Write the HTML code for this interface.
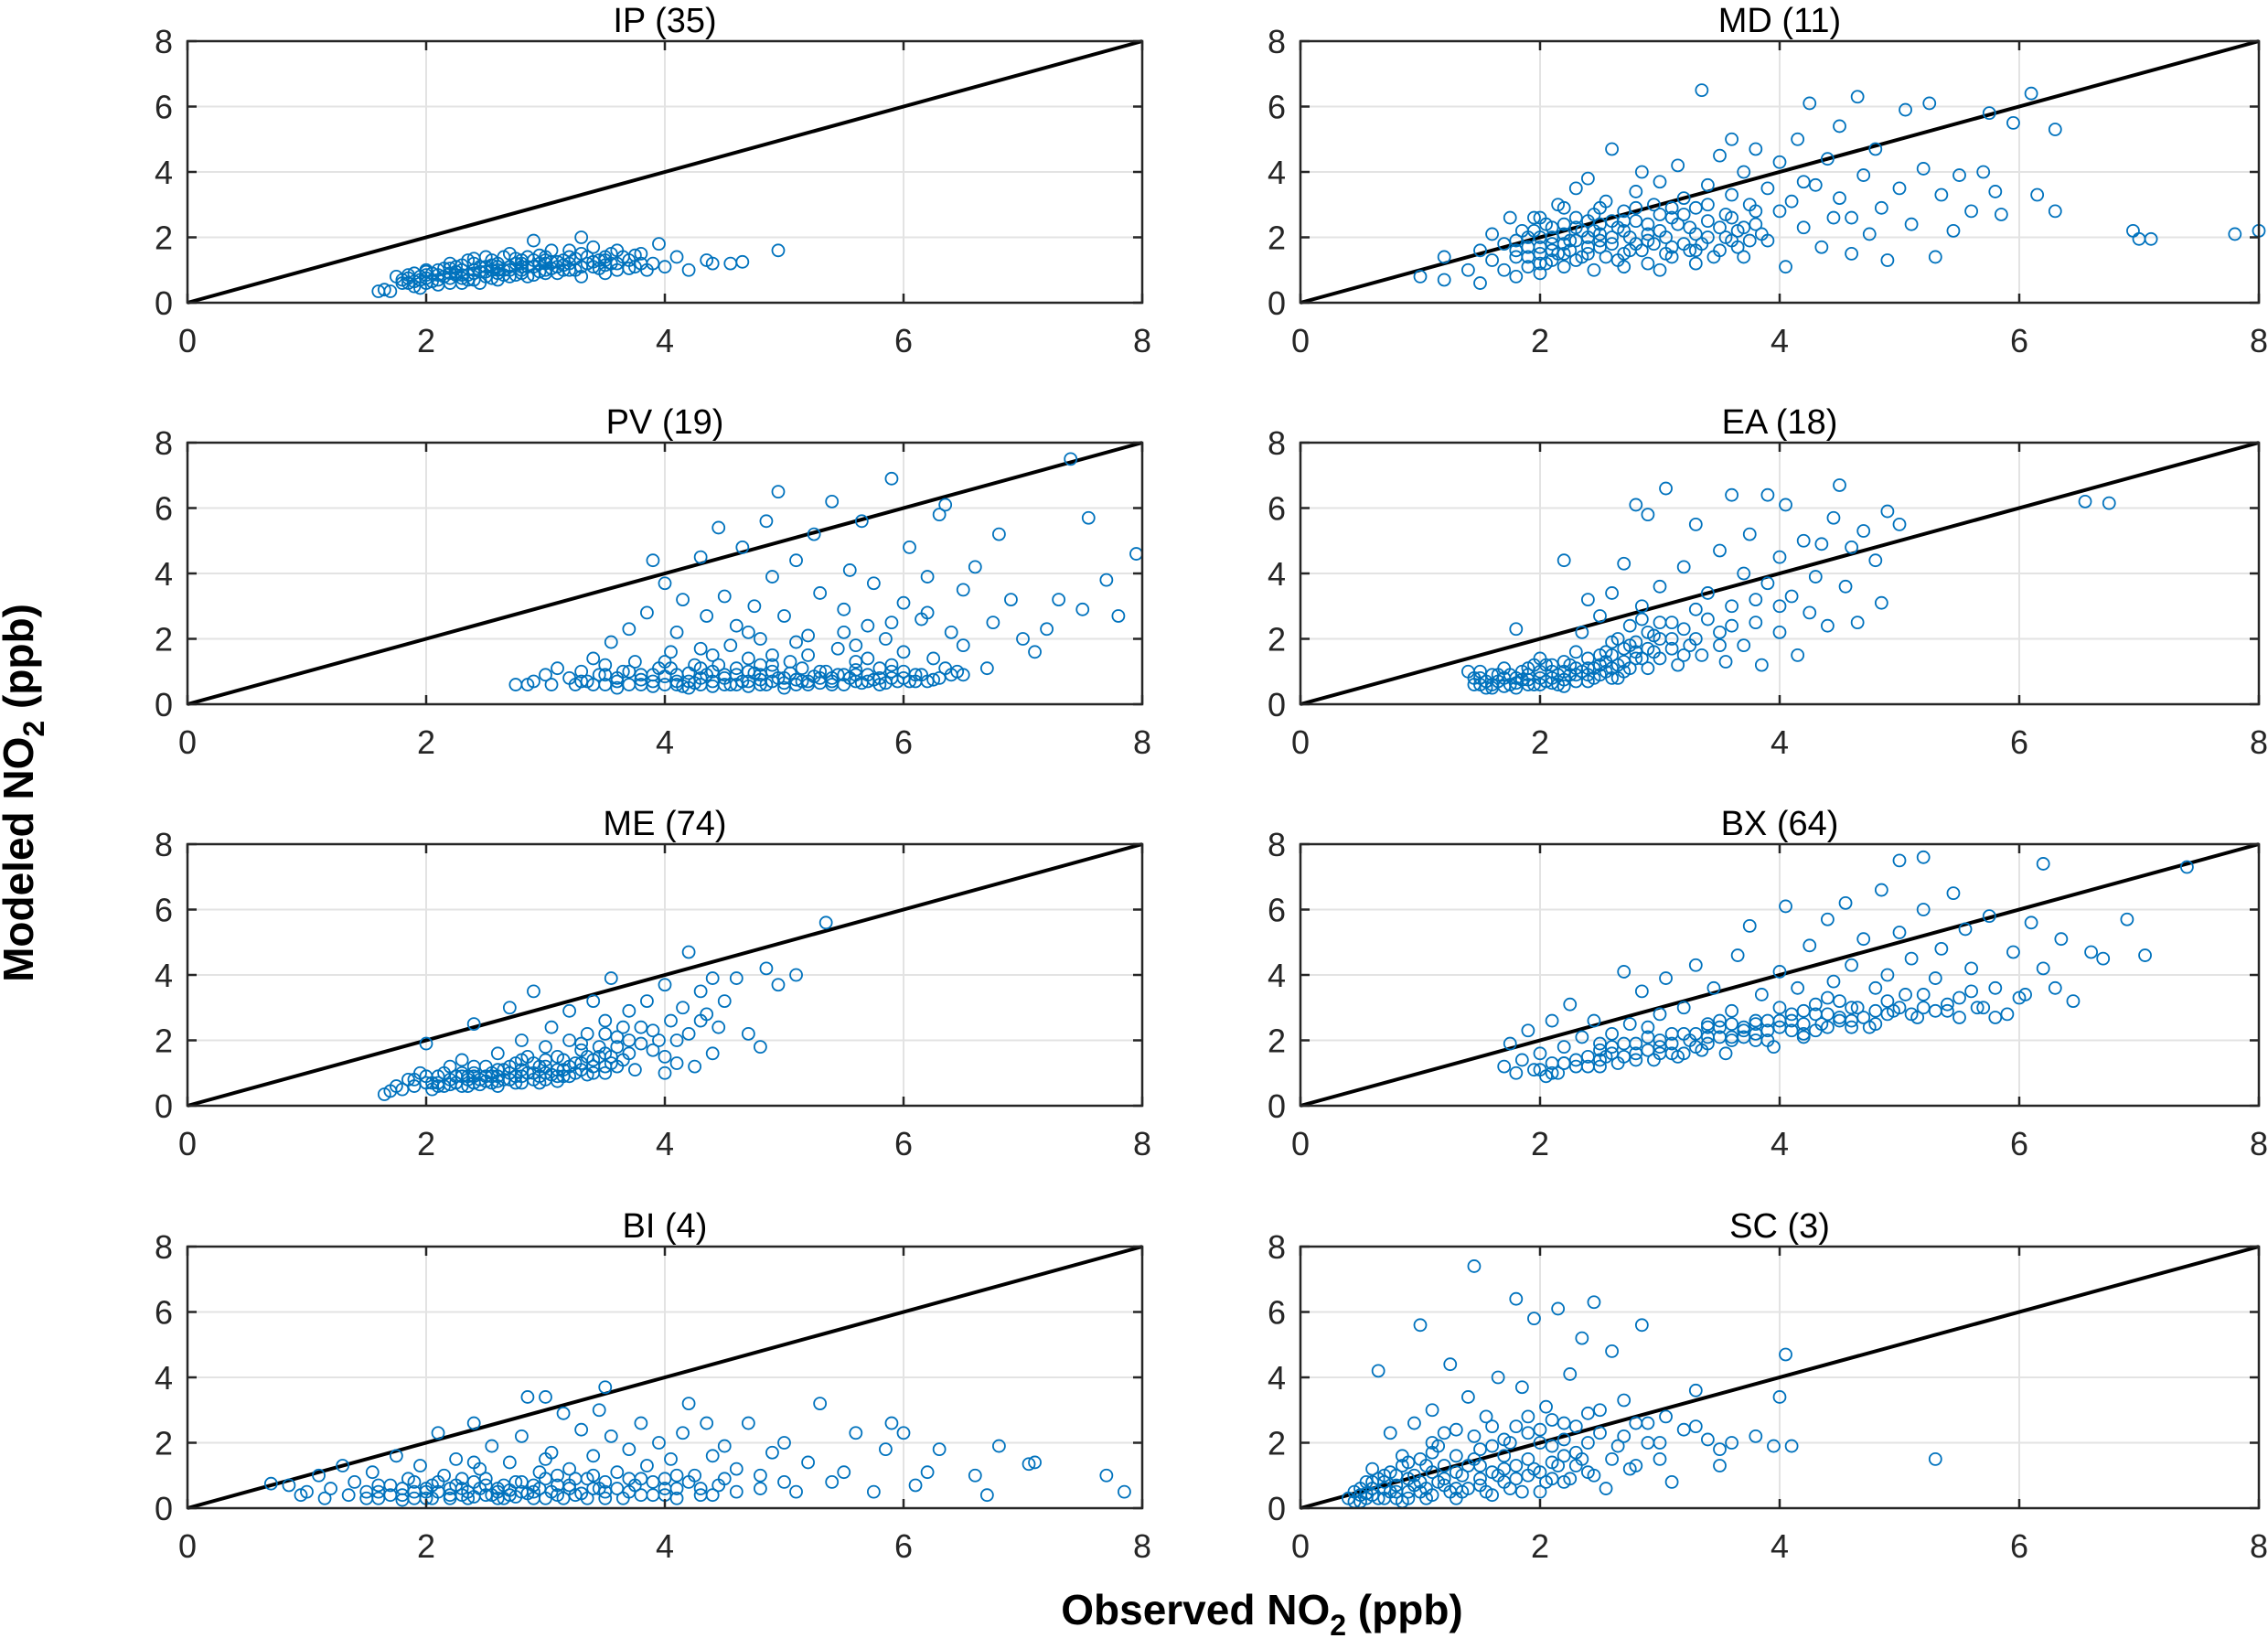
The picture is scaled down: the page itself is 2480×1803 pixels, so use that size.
<!DOCTYPE html>
<html><head><meta charset="utf-8"><style>
html,body{margin:0;padding:0;background:#fff;}
svg{display:block;font-family:"Liberation Sans",Arial,sans-serif;}
</style></head><body>
<svg id="fig" width="2480" height="1803" viewBox="0 0 2480 1803" xmlns="http://www.w3.org/2000/svg">
<text transform="translate(36,867) rotate(-90)" text-anchor="middle" font-size="46" font-weight="bold" fill="#000">Modeled NO<tspan font-size="32" dy="12">2</tspan><tspan dy="-12"> (ppb)</tspan></text>
<text x="1380" y="1776" text-anchor="middle" font-size="46" font-weight="bold" fill="#000">Observed NO<tspan font-size="32" dy="12">2</tspan><tspan dy="-12"> (ppb)</tspan></text>
</svg>
<script>
const titles=["IP (35)","MD (11)","PV (19)","EA (18)","ME (74)","BX (64)","BI (4)","SC (3)"];
const tickValues=[0,2,4,6,8];
const ipPoints=[[1.6,.35],[1.65,.4],[1.7,.35],[1.75,.8],[1.8,.6],[1.85,.75],[1.9,.5],[1.95,.7],[2.0,.6],[2.0,.85],[2.05,.9],[2.1,.7],[2.1,1.0],[2.15,.8],[2.2,.6],[2.2,.9],[2.25,1.1],[2.3,.75],[2.3,1.0],[2.35,.85],[2.4,1.2],[2.4,.7],[2.45,.95],[2.5,1.1],[2.5,.8],[2.55,1.3],[2.6,.9],[2.6,1.1],[2.65,1.4],[2.7,.8],[2.7,1.0],[2.75,1.2],[2.8,.9],[2.8,1.3],[2.85,1.1],[2.9,1.9],[2.9,.85],[2.95,1.2],[3.0,1.0],[3.0,1.4],[3.05,1.6],[3.1,1.1],[3.1,.9],[3.15,1.3],[3.2,1.2],[3.25,1.0],[3.3,1.5],[3.3,2.0],[3.35,1.2],[3.4,1.1],[3.45,1.3],[3.5,1.4],[3.5,.9],[3.55,1.2],[3.6,1.6],[3.6,1.0],[3.7,1.3],[3.75,1.1],[3.8,1.5],[3.9,1.2],[3.95,1.8],[4.0,1.1],[4.1,1.4],[4.2,1.0],[4.35,1.3],[4.4,1.2],[4.55,1.2],[4.65,1.25],[4.95,1.6],[1.9,.9],[2.0,1.0],[2.2,1.2],[2.3,.6],[2.5,1.4],[2.6,.7],[2.7,1.5],[2.8,1.1],[3.0,1.2],[3.2,1.6],[3.4,1.7],[3.3,.8],[2.4,1.0],[2.1,.55],[2.0,.75],[1.85,.6],[2.35,1.3],[2.65,1.0],[2.95,1.45],[3.15,1.0],[3.5,1.15],[3.65,1.4],[3.85,1.0],[2.45,.6],[2.75,.85],[2.9,1.3],[3.05,1.25],[2.55,1.0],[2.25,.85],[1.95,.45],
[1.8,.7],[1.85,.85],[1.9,.65],[1.95,.8],[2.0,.95],[2.05,.65],[2.1,.85],[2.15,1.05],[2.2,.75],[2.25,.95],[2.3,1.15],[2.35,.7],[2.4,.9],[2.45,1.1],[2.5,.95],[2.55,.75],[2.6,1.2],[2.65,.85],[2.7,1.1],[2.75,1.35],[2.8,1.0],[2.85,.8],[2.9,1.1],[2.95,.95],[3.0,1.3],[3.05,1.05],[3.1,1.25],[3.15,1.15],[3.2,1.0],[3.25,1.35],[3.3,1.1],[3.35,1.4],[3.4,1.25],[3.45,1.05],[3.5,1.3],[3.55,1.5],[3.6,1.2],[3.7,1.05],[3.75,1.45],[3.8,1.2],[2.2,1.05],[2.4,1.35],[2.6,1.0],[2.8,1.2],[3.0,.9],[3.2,1.4],[2.0,.6],[2.3,.85],[2.55,1.15],[2.85,1.4]];
const mdPoints=[[1.0,.8],[1.2,1.4],[1.2,.7],[1.4,1.0],[1.5,1.6],[1.5,.6],[1.6,1.3],[1.6,2.1],[1.7,1.0],[1.7,1.8],[1.75,2.6],[1.8,1.4],[1.8,.8],[1.85,2.2],[1.9,1.7],[1.9,1.1],[1.95,2.6],[2.0,1.5],[2.0,2.0],[2.0,.9],[2.05,2.4],[2.1,1.3],[2.1,1.8],[2.15,3.0],[2.2,2.1],[2.2,1.1],[2.25,1.6],[2.3,2.6],[2.3,3.5],[2.35,1.4],[2.4,2.0],[2.4,3.8],[2.45,1.0],[2.5,2.4],[2.5,1.7],[2.55,3.1],[2.6,4.7],[2.6,2.0],[2.65,1.3],[2.7,2.8],[2.7,2.2],[2.75,1.6],[2.8,3.4],[2.8,2.5],[2.85,4.0],[2.9,1.9],[2.9,1.2],[2.95,3.0],[3.0,2.2],[3.0,3.7],[3.05,1.5],[3.1,2.6],[3.15,4.2],[3.2,1.8],[3.2,3.2],[3.25,2.3],[3.3,1.2],[3.3,2.9],[3.35,6.5],[3.4,3.6],[3.4,2.0],[3.5,4.5],[3.5,1.6],[3.55,2.7],[3.6,3.3],[3.6,5.0],[3.65,2.2],[3.7,4.0],[3.7,1.4],[3.75,3.0],[3.8,2.4],[3.8,4.7],[3.9,1.9],[3.9,3.5],[4.0,2.8],[4.0,4.3],[4.05,1.1],[4.1,3.1],[4.15,5.0],[4.2,2.3],[4.25,6.1],[4.3,3.6],[4.35,1.7],[4.4,4.4],[4.45,2.6],[4.5,5.4],[4.5,3.2],[4.6,1.5],[4.65,6.3],[4.7,3.9],[4.75,2.1],[4.8,4.7],[4.85,2.9],[4.9,1.3],[5.0,3.5],[5.05,5.9],[5.1,2.4],[5.2,4.1],[5.25,6.1],[5.3,1.4],[5.35,3.3],[5.45,2.2],[5.5,3.9],[5.6,2.8],[5.7,4.0],[5.75,5.8],[5.8,3.4],[5.85,2.7],[5.95,5.5],[6.1,6.4],[6.15,3.3],[6.3,5.3],[6.3,2.8],[6.95,2.2],[7.0,1.95],[7.1,1.95],[7.8,2.1],[8.0,2.2],[2.2,2.9],[2.5,2.9],[2.7,1.1],[3.1,1.7],[3.4,2.5],[3.0,1.0],[2.4,1.5],[1.9,2.0],[2.1,2.3],[2.3,1.9],[2.6,2.5],[2.8,1.8],[3.6,1.9],[3.8,2.8],[4.2,3.7],[4.6,2.6],[2.0,1.2],[2.2,1.5],[1.8,1.9],[2.45,2.2],
[1.8,1.6],[1.9,1.4],[1.95,2.2],[2.0,1.7],[2.05,1.2],[2.1,2.0],[2.15,1.5],[2.2,2.4],[2.25,1.9],[2.3,1.3],[2.35,2.2],[2.4,1.7],[2.45,2.7],[2.5,2.1],[2.55,1.4],[2.6,1.8],[2.65,2.3],[2.7,1.5],[2.75,2.0],[2.8,2.9],[2.85,1.6],[2.9,2.4],[2.95,1.8],[3.0,2.7],[3.05,2.0],[3.1,1.4],[3.15,2.4],[3.2,2.7],[3.25,1.6],[3.3,2.1],[3.35,1.8],[3.4,3.0],[3.45,1.4],[3.5,2.3],[3.55,2.0],[3.6,2.6],[3.65,1.7],[3.7,2.3],[3.75,1.9],[3.85,2.1],[2.1,1.6],[2.3,2.3],[2.5,1.9],[2.7,2.5],[2.9,2.1],[3.1,2.9],[3.3,1.6],[2.0,2.6],[2.2,1.8],[2.4,2.5]];
const pvPoints=[[2.75,.6],[2.85,.6],[2.9,.7],[3.0,.9],[3.05,.6],[3.1,1.1],[3.2,.8],[3.25,.6],[3.3,1.0],[3.35,.7],[3.4,1.4],[3.45,.9],[3.5,.6],[3.5,1.2],[3.55,1.9],[3.6,.8],[3.65,1.0],[3.7,2.3],[3.7,.6],[3.75,1.3],[3.8,.9],[3.85,2.8],[3.9,.7],[3.9,4.4],[3.95,1.1],[4.0,.6],[4.0,3.7],[4.05,1.6],[4.1,.9],[4.1,2.2],[4.15,3.2],[4.2,.7],[4.25,1.2],[4.3,4.5],[4.3,.8],[4.35,2.7],[4.4,1.0],[4.45,5.4],[4.5,.6],[4.5,3.3],[4.55,1.8],[4.6,.9],[4.6,2.4],[4.65,4.8],[4.7,.7],[4.7,1.4],[4.75,3.0],[4.8,.6],[4.8,2.0],[4.85,5.6],[4.9,1.0],[4.9,3.9],[4.95,6.5],[5.0,.8],[5.0,2.7],[5.05,1.3],[5.1,4.4],[5.15,.7],[5.2,2.1],[5.25,5.2],[5.3,1.0],[5.3,3.4],[5.4,.8],[5.4,6.2],[5.45,1.7],[5.5,2.9],[5.55,4.1],[5.6,.9],[5.6,1.3],[5.65,5.6],[5.7,2.4],[5.75,3.7],[5.8,.8],[5.85,2.0],[5.9,6.9],[5.9,1.2],[6.0,3.1],[6.05,4.8],[6.1,.9],[6.15,2.6],[6.2,3.9],[6.25,1.4],[6.3,5.8],[6.35,6.1],[6.4,2.2],[6.45,1.0],[6.5,3.5],[6.6,4.2],[6.7,1.1],[6.75,2.5],[6.8,5.2],[6.9,3.2],[7.0,2.0],[7.1,1.6],[7.2,2.3],[7.3,3.2],[7.4,7.5],[7.5,2.9],[7.55,5.7],[7.7,3.8],[7.8,2.7],[7.95,4.6],[3.6,.5],[3.8,.6],[4.2,.5],[4.4,.7],[4.6,.6],[4.8,.9],[5.0,.5],[5.2,.7],[5.4,.6],[5.6,.7],[5.8,.6],[6.0,.8],[6.2,.7],[6.4,.9],[3.3,.7],[3.9,.9],[4.1,.6],[4.3,1.1],[4.5,.9],[4.7,1.0],[4.9,.7],[5.1,.6],[5.3,.8],[5.5,.9],[5.7,.7],[5.9,1.0],[6.1,.7],[6.3,.8],[4.0,1.3],[4.4,1.5],[4.8,1.2],[5.2,1.5],[5.6,1.8],[6.0,1.6],[6.5,1.8],
[3.4,.6],[3.5,.9],[3.6,.7],[3.7,1.0],[3.8,.75],[3.9,.55],[4.0,.85],[4.05,1.1],[4.1,.7],[4.15,.55],[4.2,.95],[4.25,.65],[4.3,.6],[4.35,.9],[4.4,.55],[4.45,1.2],[4.5,.8],[4.55,.6],[4.6,1.1],[4.65,.7],[4.7,.55],[4.75,.95],[4.8,.75],[4.85,.6],[4.9,1.2],[4.95,.8],[5.0,.65],[5.05,.95],[5.1,.75],[5.15,1.1],[5.2,.6],[5.25,.85],[5.3,.65],[5.35,1.0],[5.4,.7],[5.45,.9],[5.5,.6],[5.55,.8],[5.6,1.05],[5.65,.65],[5.7,.9],[5.75,.75],[5.8,1.1],[5.85,.65],[5.9,.8],[5.95,.7],[6.0,1.0],[6.05,.7],[6.15,.9],[6.25,.75],[6.35,1.1],[6.5,.9],[4.3,1.7],[4.7,2.2],[5.1,1.9],[5.5,2.2],[5.9,2.5],[6.2,2.8],[4.9,1.5],[5.7,1.4]];
const eaPoints=[[1.4,1.0],[1.45,.6],[1.5,.8],[1.55,.5],[1.6,.9],[1.65,.7],[1.7,1.1],[1.75,.6],[1.8,2.3],[1.8,.8],[1.85,1.0],[1.9,.6],[1.95,1.2],[2.0,.8],[2.0,1.4],[2.05,.7],[2.1,1.0],[2.15,.6],[2.2,4.4],[2.2,1.3],[2.25,.9],[2.3,1.6],[2.3,.7],[2.35,2.2],[2.4,1.1],[2.4,3.2],[2.45,.8],[2.5,1.5],[2.5,2.7],[2.55,1.0],[2.6,3.4],[2.6,1.9],[2.65,.8],[2.7,4.3],[2.7,1.3],[2.75,2.4],[2.8,6.1],[2.8,1.6],[2.85,3.0],[2.9,5.8],[2.9,1.1],[2.95,2.1],[3.0,3.6],[3.0,1.4],[3.05,6.6],[3.1,2.5],[3.15,1.2],[3.2,4.2],[3.25,1.8],[3.3,5.5],[3.3,2.9],[3.35,1.5],[3.4,3.4],[3.5,4.7],[3.5,2.2],[3.55,1.3],[3.6,6.4],[3.6,3.0],[3.7,1.8],[3.7,4.0],[3.75,5.2],[3.8,2.5],[3.85,1.2],[3.9,6.4],[3.9,3.7],[4.0,2.2],[4.0,4.5],[4.05,6.1],[4.1,3.3],[4.15,1.5],[4.2,5.0],[4.25,2.8],[4.3,3.9],[4.35,4.9],[4.4,2.4],[4.45,5.7],[4.5,6.7],[4.55,3.6],[4.6,4.8],[4.65,2.5],[4.7,5.3],[4.8,4.4],[4.85,3.1],[4.9,5.9],[5.0,5.5],[6.55,6.2],[6.75,6.15],[1.5,.6],[1.6,.5],[1.7,.8],[1.9,.9],[2.0,.6],[2.1,.8],[2.2,1.0],[2.3,1.1],[2.4,.9],[2.5,1.2],[2.6,1.1],[2.7,1.0],[2.8,1.4],[2.9,1.7],[3.0,2.0],[3.1,1.7],[3.2,2.3],[2.55,1.6],[2.65,2.0],[2.75,1.8],[2.85,2.6],[1.8,.5],[2.1,1.2],
[1.45,.8],[1.5,1.0],[1.55,.7],[1.6,.6],[1.65,.9],[1.7,.55],[1.75,.9],[1.8,.65],[1.85,.75],[1.9,1.1],[1.95,.6],[2.0,1.0],[2.05,1.2],[2.1,.65],[2.15,.9],[2.2,.75],[2.25,1.2],[2.3,.9],[2.35,1.0],[2.4,1.4],[2.45,1.1],[2.5,.9],[2.55,1.3],[2.6,1.5],[2.65,1.2],[2.7,1.7],[2.75,1.1],[2.8,1.9],[2.85,1.4],[2.9,2.2],[2.95,1.6],[3.0,2.5],[3.1,2.0],[3.2,1.5],[3.3,2.0],[3.4,2.6],[3.5,1.8],[3.6,2.4],[3.8,3.2],[4.0,3.0],[2.6,.8],[2.2,.55],[1.9,.75],[2.4,.7]];
const mePoints=[[1.65,.35],[1.7,.45],[1.75,.6],[1.8,.5],[1.85,.8],[1.9,.6],[1.95,1.0],[2.0,.7],[2.0,1.9],[2.05,.5],[2.1,.9],[2.15,.6],[2.2,1.2],[2.25,.7],[2.3,.9],[2.3,1.4],[2.35,.6],[2.4,1.0],[2.4,2.5],[2.45,.8],[2.5,1.2],[2.55,.7],[2.6,1.6],[2.6,.9],[2.65,1.1],[2.7,.8],[2.7,3.0],[2.75,1.3],[2.8,.9],[2.8,2.0],[2.85,1.5],[2.9,1.0],[2.9,3.5],[2.95,1.2],[3.0,.8],[3.0,1.8],[3.05,2.4],[3.1,1.1],[3.1,1.5],[3.15,.9],[3.2,2.0],[3.2,2.9],[3.25,1.3],[3.3,1.7],[3.35,2.2],[3.4,1.0],[3.4,3.2],[3.45,1.5],[3.5,2.6],[3.5,1.2],[3.55,3.9],[3.6,1.8],[3.6,2.1],[3.65,1.4],[3.7,2.9],[3.75,1.1],[3.8,2.4],[3.85,3.2],[3.9,1.7],[3.95,2.0],[4.0,3.7],[4.0,1.0],[4.05,2.6],[4.1,1.3],[4.15,3.0],[4.2,4.7],[4.2,2.2],[4.25,1.2],[4.3,3.5],[4.35,2.8],[4.4,3.9],[4.45,2.4],[4.5,3.2],[4.6,3.9],[4.7,2.2],[4.8,1.8],[4.85,4.2],[4.95,3.7],[5.1,4.0],[5.35,5.6],[2.2,.8],[2.4,.7],[2.6,.75],[2.8,1.1],[3.0,1.0],[3.2,1.2],[3.4,1.4],[2.5,.9],[2.7,1.0],[2.9,1.3],[3.1,.9],[3.3,1.1],[3.5,1.6],[2.35,.9],[2.55,1.0],[2.75,.7],[2.95,.9],[3.15,1.4],[3.35,1.5],[3.55,1.3],[2.1,.7],[2.3,1.0],[1.9,.8],
[2.0,.9],[2.05,.7],[2.1,.6],[2.15,1.0],[2.2,.65],[2.25,.9],[2.3,.6],[2.35,.8],[2.4,.9],[2.45,.65],[2.5,.75],[2.55,.9],[2.6,.6],[2.65,.8],[2.7,1.2],[2.75,.9],[2.8,.7],[2.85,1.0],[2.9,.8],[2.95,.7],[3.0,1.2],[3.05,.95],[3.1,.75],[3.15,1.1],[3.2,.9],[3.25,1.0],[3.3,1.3],[3.35,.95],[3.4,1.2],[3.45,1.8],[3.5,1.0],[3.55,1.5],[3.6,1.2],[3.65,2.4],[3.7,1.6],[3.8,1.9],[3.9,2.3],[4.0,1.5],[4.1,2.0],[3.3,1.9],[3.0,1.4],[2.8,1.4],[2.6,1.1],[2.4,1.2],[3.5,2.2],[3.7,2.0],[4.3,2.6],[4.4,1.6]];
const bxPoints=[[1.7,1.2],[1.75,1.9],[1.8,1.0],[1.85,1.4],[1.9,2.3],[1.95,1.1],[2.0,1.6],[2.05,.9],[2.1,2.6],[2.1,1.3],[2.15,1.0],[2.2,1.8],[2.25,3.1],[2.3,1.4],[2.35,2.1],[2.4,1.2],[2.45,2.6],[2.5,1.7],[2.55,1.5],[2.6,2.2],[2.65,1.3],[2.7,4.1],[2.7,1.9],[2.75,2.5],[2.8,1.6],[2.85,3.5],[2.9,2.1],[2.95,1.4],[3.0,2.8],[3.0,1.8],[3.05,3.9],[3.1,2.2],[3.15,1.5],[3.2,3.0],[3.25,2.0],[3.3,4.3],[3.35,1.7],[3.4,2.5],[3.45,3.6],[3.5,2.1],[3.55,1.6],[3.6,2.9],[3.65,4.6],[3.7,2.3],[3.75,5.5],[3.8,2.0],[3.85,3.4],[3.9,2.6],[3.95,1.8],[4.0,4.1],[4.05,6.1],[4.1,2.8],[4.15,3.6],[4.2,2.2],[4.25,4.9],[4.3,3.1],[4.35,2.5],[4.4,5.7],[4.45,3.8],[4.5,2.7],[4.55,6.2],[4.6,4.3],[4.65,3.0],[4.7,5.1],[4.75,2.4],[4.8,3.6],[4.85,6.6],[4.9,4.0],[4.95,2.9],[5.0,7.5],[5.0,5.3],[5.05,3.4],[5.1,4.5],[5.15,2.7],[5.2,7.6],[5.2,6.0],[5.3,3.9],[5.35,4.8],[5.4,2.9],[5.45,6.5],[5.5,3.3],[5.55,5.4],[5.6,4.2],[5.65,3.0],[5.75,5.8],[5.8,3.6],[5.9,2.8],[5.95,4.7],[6.05,3.4],[6.1,5.6],[6.2,7.4],[6.2,4.2],[6.3,3.6],[6.35,5.1],[6.45,3.2],[6.6,4.7],[6.7,4.5],[6.9,5.7],[7.05,4.6],[7.4,7.3],[2.5,1.2],[2.8,1.4],[3.1,1.6],[3.4,1.9],[3.7,2.1],[4.0,2.4],[4.3,2.3],[4.6,2.6],[4.9,2.8],[5.2,3.0],[3.3,2.2],[3.6,2.5],[3.9,2.3],[4.2,2.9],[4.5,3.2],[2.2,1.3],[2.6,1.6],[3.0,2.0],[3.5,2.4],[3.8,2.6],[4.1,2.6],[4.4,2.8],[4.8,2.9],
[2.0,1.1],[2.1,1.0],[2.2,1.3],[2.3,1.2],[2.4,1.5],[2.5,1.4],[2.6,1.8],[2.7,1.5],[2.8,1.9],[2.9,1.7],[3.0,1.6],[3.1,1.9],[3.2,2.2],[3.3,1.8],[3.4,2.1],[3.5,2.6],[3.6,2.0],[3.7,2.4],[3.8,2.2],[3.9,2.0],[4.0,2.6],[4.1,2.3],[4.2,2.5],[4.3,2.8],[4.4,2.4],[4.5,2.6],[4.6,3.0],[4.7,2.7],[4.8,2.5],[4.9,3.2],[5.0,3.0],[5.1,2.8],[5.2,3.4],[5.3,2.9],[5.4,3.1],[5.5,2.7],[5.6,3.5],[5.7,3.0],[5.8,2.7],[6.0,3.3],[3.2,1.6],[3.6,2.1],[3.8,2.5],[4.2,2.1],[4.6,2.4],[4.0,3.0],[3.4,2.4],[2.5,1.9],[2.9,2.4],[4.4,3.3]];
const biPoints=[[0.7,.75],[0.85,.7],[0.95,.4],[1.0,.5],[1.1,1.0],[1.15,.3],[1.2,.6],[1.3,1.3],[1.35,.4],[1.4,.8],[1.5,.5],[1.55,1.1],[1.6,.3],[1.7,.7],[1.75,1.6],[1.8,.4],[1.85,.9],[1.9,.5],[1.95,1.3],[2.0,.3],[2.05,.7],[2.1,2.3],[2.1,.5],[2.15,1.0],[2.2,.4],[2.25,1.5],[2.3,.6],[2.35,.3],[2.4,2.6],[2.4,.8],[2.45,1.2],[2.5,.4],[2.55,1.9],[2.6,.6],[2.65,.3],[2.7,1.4],[2.75,.8],[2.8,2.2],[2.85,3.4],[2.9,.5],[2.95,1.1],[3.0,3.4],[3.0,.3],[3.05,1.7],[3.1,.7],[3.15,2.9],[3.2,1.2],[3.25,.4],[3.3,2.4],[3.35,.9],[3.4,1.6],[3.45,3.0],[3.5,3.7],[3.5,.5],[3.55,2.2],[3.6,1.1],[3.65,.3],[3.7,1.8],[3.75,.7],[3.8,2.6],[3.85,1.3],[3.9,.4],[3.95,2.0],[4.0,.9],[4.05,1.5],[4.1,.6],[4.15,2.3],[4.2,3.2],[4.25,1.0],[4.3,.4],[4.35,2.6],[4.4,1.6],[4.45,.7],[4.5,1.9],[4.6,1.2],[4.7,2.6],[4.8,.6],[4.9,1.7],[5.0,2.0],[5.1,.5],[5.2,1.4],[5.3,3.2],[5.4,.8],[5.5,1.1],[5.6,2.3],[5.75,.5],[5.85,1.8],[5.9,2.6],[6.0,2.3],[6.1,.7],[6.2,1.1],[6.3,1.8],[6.6,1.0],[6.7,.4],[6.8,1.9],[7.05,1.35],[7.1,1.4],[7.7,1.0],[7.85,.5],[1.6,.5],[1.9,.3],[2.2,.6],[2.5,.7],[2.8,.5],[3.1,.4],[3.4,.6],[3.7,.5],[4.0,.4],[2.0,.5],[2.3,.4],[2.6,.5],[2.9,.7],[3.2,.6],[3.5,.8],[3.8,.9],[4.1,1.0],[1.8,.6],[2.7,.4],
[1.5,.3],[1.6,.7],[1.7,.4],[1.8,.25],[1.9,.8],[2.0,.6],[2.05,.3],[2.1,.8],[2.2,.3],[2.25,.7],[2.3,.9],[2.35,.5],[2.4,.35],[2.45,.6],[2.5,.9],[2.55,.4],[2.6,.3],[2.65,.7],[2.7,.55],[2.75,.35],[2.8,.8],[2.85,.45],[2.9,.3],[2.95,.6],[3.0,.9],[3.05,.5],[3.1,1.0],[3.15,.3],[3.2,.7],[3.25,.9],[3.3,.45],[3.35,.3],[3.4,1.0],[3.45,.6],[3.5,.3],[3.6,.6],[3.7,.9],[3.8,.4],[3.9,.8],[4.0,.6],[4.1,.3],[4.2,.8],[4.3,.6],[4.4,.4],[4.5,.9],[4.6,.5],[4.8,1.0],[5.0,.8],[3.0,1.5],[2.4,1.4]];
const scPoints=[[0.4,.3],[0.45,.5],[0.5,.2],[0.55,.8],[0.6,.4],[0.6,1.2],[0.65,4.2],[0.7,.6],[0.75,2.3],[0.8,.3],[0.8,1.0],[0.85,1.6],[0.9,.5],[0.95,2.6],[1.0,.8],[1.0,5.6],[1.05,1.3],[1.1,.4],[1.1,3.0],[1.15,1.9],[1.2,.7],[1.25,4.4],[1.3,1.1],[1.3,2.4],[1.35,.5],[1.4,3.4],[1.45,7.4],[1.45,1.5],[1.5,.9],[1.55,2.8],[1.6,.4],[1.6,1.9],[1.65,4.0],[1.7,1.2],[1.75,.6],[1.8,6.4],[1.8,2.5],[1.85,3.7],[1.9,1.0],[1.95,5.8],[2.0,2.0],[2.0,.5],[2.05,3.1],[2.1,1.4],[2.15,6.1],[2.2,2.6],[2.2,.8],[2.25,4.1],[2.3,1.7],[2.35,5.2],[2.4,2.9],[2.4,1.1],[2.45,6.3],[2.5,2.3],[2.55,.6],[2.6,4.8],[2.65,1.9],[2.7,3.3],[2.75,1.2],[2.8,2.6],[2.85,5.6],[2.9,2.0],[3.0,1.5],[3.05,2.8],[3.1,.8],[3.2,2.4],[3.3,3.6],[3.4,2.1],[3.5,1.3],[3.6,2.0],[3.8,2.2],[3.95,1.9],[4.0,3.4],[4.05,4.7],[4.1,1.9],[5.3,1.5],[0.5,.4],[0.6,.6],[0.7,.3],[0.8,.7],[0.9,.9],[1.0,.5],[1.1,1.1],[1.2,.9],[1.3,.6],[1.4,1.3],[1.5,.7],[1.6,1.1],[1.7,1.6],[1.8,.9],[1.9,1.5],[2.0,1.1],[2.1,.9],[2.2,1.6],[2.3,1.3],[0.7,1.0],[0.9,1.4],[1.1,1.7],[1.3,.3],[1.5,1.8],[1.7,2.1],[1.9,2.3],[2.1,2.7],[0.55,.3],[0.65,.9],[0.75,.5],[0.85,.2],[0.95,.7],[1.05,.3],
[0.45,.2],[0.5,.6],[0.55,.45],[0.6,.8],[0.65,.3],[0.7,.8],[0.75,1.1],[0.8,.5],[0.85,1.3],[0.9,.3],[0.95,1.0],[1.0,1.5],[1.05,.6],[1.1,2.0],[1.15,.8],[1.2,1.3],[1.25,.5],[1.3,1.6],[1.35,1.0],[1.4,.6],[1.45,2.2],[1.5,1.3],[1.55,.5],[1.6,2.5],[1.65,1.0],[1.7,.8],[1.75,2.0],[1.8,1.3],[1.85,.5],[1.9,2.8],[1.95,1.2],[2.0,2.4],[2.05,.8],[2.1,1.9],[2.15,1.3],[2.2,2.1],[2.25,.9],[2.3,2.5],[2.35,1.5],[2.4,2.0],[2.45,1.0],[2.5,3.0],[2.6,1.5],[2.7,2.2],[2.8,1.3],[2.9,2.6],[3.0,2.0],[3.3,2.5],[3.5,1.8],[1.2,2.3]];
const panelSeries=[ipPoints,mdPoints,pvPoints,eaPoints,mePoints,bxPoints,biPoints,scPoints];
const panelNames=["ip","md","pv","ea","me","bx","bi","sc"];

const NS="http://www.w3.org/2000/svg";
const svg=document.getElementById('fig');
const colLeft=[205,1422], colW=[1044,1048];
const rowTop=[45,484,923,1363], rowH=286;
function mk(tag,attrs,parent){const e=document.createElementNS(NS,tag);for(const k in attrs)e.setAttribute(k,attrs[k]);parent.appendChild(e);return e;}

panelSeries.forEach((pts,i)=>{
  const c=i%2, r=Math.floor(i/2);
  const L=colLeft[c], W=colW[c], T=rowTop[r], B=T+rowH;
  const sx=v=>L+v/8*W, sy=v=>B-v/8*rowH;
  const g=mk('g',{},svg);
  
  
  tickValues.slice(1,4).forEach(t=>{
    const gx=mk('line',{x1:sx(t),x2:sx(t),y1:T,y2:B,stroke:'#e3e3e3','stroke-width':2},g);
    
    
    const gy=mk('line',{x1:L,x2:L+W,y1:sy(t),y2:sy(t),stroke:'#e3e3e3','stroke-width':2},g);
    
    
  });
  const dl=mk('line',{x1:sx(0),y1:sy(0),x2:sx(8),y2:sy(8),stroke:'#000','stroke-width':4},g);
  
  
  pts.forEach(p=>{
    const ci=mk('circle',{cx:sx(p[0]),cy:sy(p[1]),r:6.5,fill:'none',stroke:'#0072BD','stroke-width':1.8},g);
    
    
  });
  const bx=mk('rect',{x:L,y:T,width:W,height:rowH,fill:'none',stroke:'#262626','stroke-width':2.5},g);
  
  
  tickValues.forEach(t=>{
    mk('line',{x1:sx(t),x2:sx(t),y1:B,y2:B-10,stroke:'#262626','stroke-width':2.5},g);
    mk('line',{x1:sx(t),x2:sx(t),y1:T,y2:T+10,stroke:'#262626','stroke-width':2.5},g);
    mk('line',{x1:L,x2:L+10,y1:sy(t),y2:sy(t),stroke:'#262626','stroke-width':2.5},g);
    mk('line',{x1:L+W,x2:L+W-10,y1:sy(t),y2:sy(t),stroke:'#262626','stroke-width':2.5},g);
    const xl=mk('text',{x:sx(t),y:B+54,'text-anchor':'middle','font-size':36,fill:'#262626'},g);
    xl.textContent=t;
    
    
    const yl=mk('text',{x:L-16,y:sy(t)+13,'text-anchor':'end','font-size':36,fill:'#262626'},g);
    yl.textContent=t;
    
    
  });
  const tt=mk('text',{x:L+W/2,y:T-10,'text-anchor':'middle','font-size':38,fill:'#000'},g);
  tt.textContent=titles[i];
  
  
});
</script>
</body></html>
